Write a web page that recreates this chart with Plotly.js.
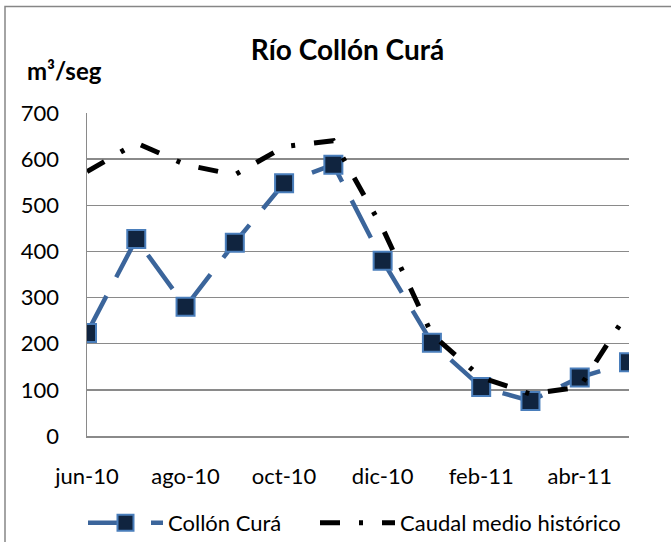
<!DOCTYPE html>
<html>
<head>
<meta charset="utf-8">
<script src="https://cdn.plot.ly/plotly-3.0.1.min.js"></script>
<style>html,body{margin:0;padding:0;background:#fff;}#chart{width:671px;height:542px;}</style>
</head>
<body>
<div id="chart"></div>
<script>
// Data
const months = ['jun-10','jul-10','ago-10','sep-10','oct-10','nov-10','dic-10','ene-11','feb-11','mar-11','abr-11','may-11'];
const tickLabels = ['jun-10','ago-10','oct-10','dic-10','feb-11','abr-11'];
const collonCura = [223, 427, 280, 419, 548, 588, 380, 202, 106, 76, 127, 160];
const caudalMedioHistorico = [573, 635, 588, 566, 627, 640, 450, 220, 127, 91, 106, 272];
const yTicks = [0, 100, 200, 300, 400, 500, 600, 700];

const FONT = 'Lato, "Open Sans", sans-serif';

const traces = [
  {
    x: months, y: collonCura, name: 'Collón Curá', type: 'scatter', mode: 'lines+markers',
    legend: 'legend',
    line: {color: '#3b659b', width: 4.5, dash: '42px,21px'},
    marker: {symbol: 'square', size: 18, color: '#10243f', line: {color: '#4a7ebb', width: 2}}
  },
  {
    x: months, y: caudalMedioHistorico, name: 'Caudal medio histórico', type: 'scatter', mode: 'lines',
    legend: 'legend2',
    line: {color: '#000000', width: 5, dash: '20px,19px,4px,19px'}
  }
];

const legendCommon = {
  orientation: 'h', xref: 'paper', xanchor: 'left',
  yref: 'container', y: 1 - 523 / 542, yanchor: 'middle',
  font: {family: FONT, size: 22, color: '#000000'},
  itemwidth: 75, bgcolor: 'rgba(0,0,0,0)', borderwidth: 0
};

const layout = {
  width: 671, height: 542,
  margin: {l: 87, r: 42, t: 113, b: 106, pad: 0, autoexpand: false},
  paper_bgcolor: '#ffffff', plot_bgcolor: '#ffffff',
  font: {family: FONT, size: 22, color: '#000000'},
  showlegend: true,
  title: {
    text: '<b>Río Collón Curá</b>',
    font: {family: FONT, size: 28, color: '#000000'},
    xref: 'paper', x: (347.5 - 87) / 542, xanchor: 'center',
    yref: 'container', y: 1 - 50 / 542, yanchor: 'middle'
  },
  xaxis: {
    type: 'category', categoryorder: 'array', categoryarray: months,
    range: [0, 11], tickmode: 'array', tickvals: tickLabels, ticktext: tickLabels,
    showgrid: false, zeroline: false, showline: true, linecolor: '#8a8a8a', linewidth: 1.5,
    ticks: '', ticklabelstandoff: 20, automargin: false,
    tickfont: {family: FONT, size: 22, color: '#000000'}, fixedrange: true
  },
  yaxis: {
    range: [0, 700], tickmode: 'array', tickvals: yTicks,
    showgrid: true, gridcolor: '#8a8a8a', gridwidth: 1.5,
    zeroline: false, showline: true, linecolor: '#8a8a8a', linewidth: 1.5,
    ticks: '', ticklabelstandoff: 22, automargin: false,
    tickfont: {family: FONT, size: 22, color: '#000000'}, fixedrange: true
  },
  legend: Object.assign({}, legendCommon, {x: (83 - 87) / 542}),
  legend2: Object.assign({}, legendCommon, {x: (315 - 87) / 542}),
  annotations: [
    {
      text: '<b>m³/seg</b>', xref: 'paper', yref: 'paper',
      x: (25 - 87) / 542, xanchor: 'left', y: (436 - 71) / 322.7, yanchor: 'middle',
      showarrow: false, font: {family: FONT, size: 24, color: '#000000'}
    }
  ],
  shapes: [
    {
      type: 'rect', xref: 'paper', yref: 'paper',
      x0: (5 - 87) / 542, x1: (700 - 87) / 542,
      y0: (436 - 600) / 322.7, y1: (436 - 7) / 322.7,
      line: {color: '#868686', width: 1.5}, fillcolor: 'rgba(0,0,0,0)', layer: 'below'
    }
  ]
};

Plotly.newPlot('chart', traces, layout, {displayModeBar: false, staticPlot: true});
</script>
</body>
</html>
